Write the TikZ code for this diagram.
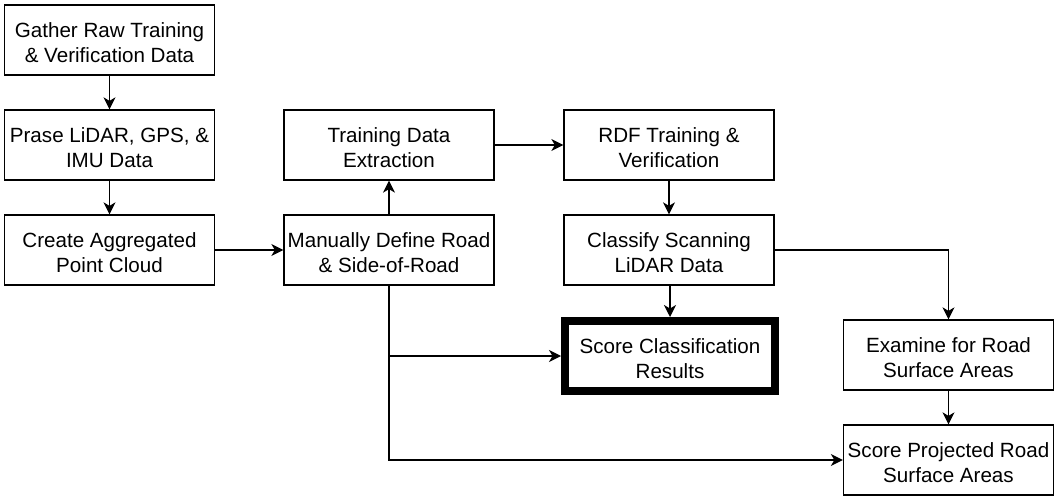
\documentclass[tikz,border=0pt]{standalone}
\usepackage{fontspec}
\setmainfont{Liberation Sans}
\usetikzlibrary{arrows.meta}
\newcommand{\tl}{\rule{0pt}{20pt}}
\begin{document}
\begin{tikzpicture}[x=1pt,y=-1pt,
  box/.style={draw=black,line width=1.3pt,fill=white,minimum width=210pt,minimum height=70pt,
    align=center,inner sep=2pt,font=\fontsize{20.6}{25}\selectfont},
  thickbox/.style={box,line width=8pt,minimum width=210pt,minimum height=70pt},
  conn/.style={line width=1.3pt,-{Stealth[length=12pt,width=12pt,inset=3.5pt]}}]
\useasboundingbox (0,0) rectangle (1061,500);
\node[box] (A) at (109.5,40) {\tl Gather Raw Training\\\& Verification Data};
\node[box] (B) at (109.5,145) {\tl Prase LiDAR, GPS, \&\\IMU Data};
\node[box] (C) at (109.5,250) {\tl Create Aggregated\\Point Cloud};
\node[box] (D) at (389,145) {\tl Training Data\\Extraction};
\node[box] (E) at (389,250) {\tl Manually Define Road\\\& Side-of-Road};
\node[box] (F) at (669,145) {\tl RDF Training \&\\Verification};
\node[box] (G) at (669,250) {\tl Classify Scanning\\LiDAR Data};
\node[thickbox] (H) at (670,356) {\tl Score Classification\\Results};
\node[box] (I) at (948.5,355) {\tl Examine for Road\\Surface Areas};
\node[box] (J) at (948.5,460) {\tl Score Projected Road\\Surface Areas};
\draw[conn] (A) -- (B);
\draw[conn] (B) -- (C);
\draw[conn] (C) -- (E);
\draw[conn] (E) -- (D);
\draw[conn] (D) -- (F);
\draw[conn] (F) -- (G);
\draw[conn] (G.south -| H.north) -- (H.north);
\draw[conn] (G.east) -| (I.north);
\draw[conn] (I) -- (J);
\draw[conn] (E.south) |- (H.west);
\draw[conn] (E.south) |- (J.west);
\end{tikzpicture}
\end{document}
